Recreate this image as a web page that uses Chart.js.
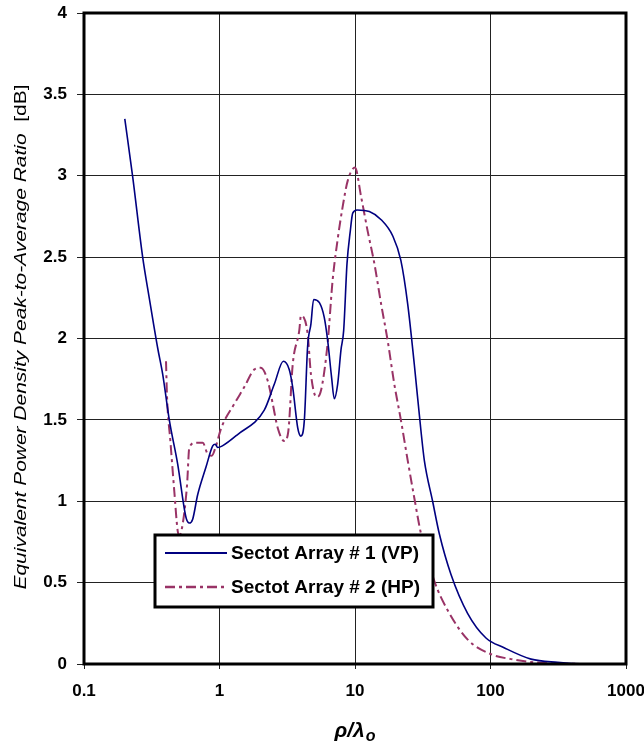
<!DOCTYPE html>
<html>
<head>
<meta charset="utf-8">
<script src="https://cdn.jsdelivr.net/npm/chart.js@4/dist/chart.umd.min.js"></script>
<style>
  html, body { margin: 0; padding: 0; background: #fff; }
  #wrap { width: 644px; height: 744px; position: relative; }
</style>
</head>
<body>
<div id="wrap"><canvas id="c" width="644" height="744"></canvas></div>
<script>
// ---- Data ----
const xTickValues = [0.1, 1, 10, 100, 1000];
const xTickLabels = ['0.1', '1', '10', '100', '1000'];

const seriesNames = ['Sectot Array # 1 (VP)', 'Sectot Array # 2 (HP)'];

const vpX = [0.2, 0.229, 0.271, 0.303, 0.35, 0.381, 0.426, 0.491, 0.566, 0.599, 0.634, 0.69, 0.795, 0.891, 0.93, 0.97, 1.05, 1.36, 2.14, 2.54, 2.96, 3.27, 3.47, 3.78, 3.99, 4.23, 4.47, 4.73, 4.95, 5.46, 5.93, 6.28, 6.72, 7.03, 7.45, 7.88, 8.25, 8.73, 9.23, 9.62, 10.35, 12.76, 15.6, 19.0, 21.8, 24.5, 27.4, 30.7, 32.5, 37.4, 41.9, 51.1, 67.9, 92.6, 126, 199, 313, 500, 1000];
const vpY = [3.35, 2.99, 2.50, 2.25, 1.94, 1.78, 1.50, 1.23, 0.90, 0.866, 0.89, 1.04, 1.21, 1.34, 1.35, 1.33, 1.34, 1.41, 1.56, 1.72, 1.86, 1.81, 1.70, 1.45, 1.40, 1.50, 1.95, 2.09, 2.24, 2.22, 2.13, 1.99, 1.76, 1.63, 1.72, 1.93, 2.05, 2.46, 2.66, 2.77, 2.79, 2.78, 2.73, 2.63, 2.48, 2.21, 1.84, 1.43, 1.25, 1.00, 0.80, 0.55, 0.31, 0.16, 0.10, 0.03, 0.01, 0.0, 0.0];

const hpX = [0.403, 0.41, 0.434, 0.464, 0.491, 0.505, 0.535, 0.576, 0.599, 0.671, 0.752, 0.818, 0.876, 0.942, 1.03, 1.29, 1.52, 1.81, 2.02, 2.27, 2.47, 2.69, 3.01, 3.22, 3.47, 3.88, 3.99, 4.18, 4.47, 4.73, 5.2, 5.61, 6.28, 6.84, 7.45, 8.11, 8.84, 10.0, 11.1, 12.4, 13.9, 15.6, 17.4, 19.5, 21.8, 24.5, 27.4, 30.7, 38.5, 48.3, 67.9, 101, 142, 210, 466];
const hpY = [1.86, 1.64, 1.37, 1.06, 0.82, 0.79, 0.86, 1.10, 1.33, 1.36, 1.36, 1.29, 1.28, 1.34, 1.45, 1.60, 1.70, 1.81, 1.82, 1.74, 1.60, 1.45, 1.37, 1.43, 1.84, 2.05, 2.14, 2.13, 2.03, 1.78, 1.64, 1.68, 1.97, 2.36, 2.61, 2.81, 2.97, 3.05, 2.87, 2.66, 2.46, 2.21, 1.99, 1.72, 1.50, 1.25, 1.02, 0.80, 0.51, 0.33, 0.15, 0.06, 0.03, 0.01, 0.0];

const yTitleItalic = 'Equivalent Power Density Peak-to-Average Ratio';
const yTitleUnit = '  [dB]';
const xTitleMain = 'ρ/λ';
const xTitleSub = 'o';

// ---- Build ----
const FONT = '"Liberation Sans", Arial, Helvetica, sans-serif';
const toPts = (xs, ys) => xs.map((x, i) => ({ x: x, y: ys[i] }));

const frameAndTitles = {
  id: 'frameAndTitles',
  afterDatasetsDraw(chart) {
    const { ctx, chartArea: a } = chart;
    ctx.save();
    // frame
    ctx.strokeStyle = '#000';
    ctx.lineWidth = 3;
    ctx.strokeRect(a.left, a.top, a.right - a.left, a.bottom - a.top);

    // legend box
    const lx = 155, ly = 535, lw = 278, lh = 72;
    ctx.fillStyle = '#fff';
    ctx.fillRect(lx, ly, lw, lh);
    ctx.lineWidth = 3;
    ctx.strokeStyle = '#000';
    ctx.strokeRect(lx, ly, lw, lh);
    const ds = chart.data.datasets;
    const rows = [553, 587];
    ds.forEach((d, i) => {
      ctx.beginPath();
      ctx.strokeStyle = d.borderColor;
      ctx.lineWidth = i === 0 ? 2 : 2.5;
      ctx.setLineDash(d.borderDash || []);
      ctx.moveTo(165, rows[i]);
      ctx.lineTo(227, rows[i]);
      ctx.stroke();
      ctx.setLineDash([]);
      ctx.fillStyle = '#000';
      ctx.font = 'bold 19px ' + FONT;
      ctx.textBaseline = 'middle';
      ctx.textAlign = 'left';
      ctx.fillText(d.label, 231, rows[i] + 1);
    });

    // y title (rotated)
    ctx.save();
    ctx.translate(22, 337);
    ctx.rotate(-Math.PI / 2);
    ctx.font = 'italic 16px ' + FONT;
    const w1 = ctx.measureText(yTitleItalic).width;
    ctx.font = '16px ' + FONT;
    const w2 = ctx.measureText(yTitleUnit).width;
    const total = w1 + w2;
    const sx = 505 / total;
    ctx.scale(sx, 1);
    ctx.fillStyle = '#000';
    ctx.textBaseline = 'middle';
    ctx.textAlign = 'left';
    ctx.font = 'italic 16px ' + FONT;
    ctx.fillText(yTitleItalic, -total / 2, 0);
    ctx.font = '16px ' + FONT;
    ctx.fillText(yTitleUnit, -total / 2 + w1, 0);
    ctx.restore();

    // x title
    ctx.fillStyle = '#000';
    ctx.textBaseline = 'alphabetic';
    ctx.textAlign = 'left';
    ctx.font = 'italic bold 21px ' + FONT;
    const m = ctx.measureText(xTitleMain).width;
    ctx.font = 'italic bold 16px ' + FONT;
    const s = ctx.measureText(xTitleSub).width;
    const x0 = 355 - (m + s + 1) / 2;
    ctx.font = 'italic bold 21px ' + FONT;
    ctx.fillText(xTitleMain, x0, 737);
    ctx.font = 'italic bold 16px ' + FONT;
    ctx.fillText(xTitleSub, x0 + m + 1, 741);
    ctx.restore();
  }
};

new Chart(document.getElementById('c'), {
  type: 'line',
  data: {
    datasets: [
      {
        label: seriesNames[0],
        data: toPts(vpX, vpY),
        borderColor: '#000080',
        borderWidth: 1.6,
        pointRadius: 0,
        fill: false,
        cubicInterpolationMode: 'monotone'
      },
      {
        label: seriesNames[1],
        data: toPts(hpX, hpY),
        borderColor: '#993366',
        borderWidth: 2,
        borderDash: [10, 4, 3, 4],
        pointRadius: 0,
        fill: false,
        cubicInterpolationMode: 'monotone'
      }
    ]
  },
  options: {
    responsive: false,
    animation: false,
    devicePixelRatio: 1,
    layout: { padding: { top: 13, right: 18, left: 0, bottom: 0 } },
    plugins: {
      legend: { display: false },
      tooltip: { enabled: false },
      title: { display: false }
    },
    scales: {
      x: {
        type: 'logarithmic',
        min: 0.1,
        max: 1000,
        afterBuildTicks(scale) {
          scale.ticks = xTickValues.map(v => ({ value: v }));
        },
        afterFit(scale) {
          scale.height = 80;
          scale.paddingLeft = 0;
          scale.paddingRight = 0;
        },
        border: { display: false },
        grid: { color: '#222', lineWidth: 1, tickLength: 5, drawTicks: true },
        ticks: {
          autoSkip: false,
          maxRotation: 0,
          padding: 12,
          color: '#000',
          font: { family: FONT, size: 17, weight: 'bold' },
          callback(v) {
            const i = xTickValues.indexOf(v);
            return i >= 0 ? xTickLabels[i] : '';
          }
        }
      },
      y: {
        min: 0,
        max: 4,
        afterFit(scale) {
          scale.width = 84;
          scale.paddingTop = 0;
          scale.paddingBottom = 0;
        },
        border: { display: false },
        grid: { color: '#222', lineWidth: 1, tickLength: 7, drawTicks: true },
        ticks: {
          stepSize: 0.5,
          padding: 10,
          color: '#000',
          font: { family: FONT, size: 17, weight: 'bold' },
          callback(v) { return String(Math.round(v * 10) / 10); }
        }
      }
    }
  },
  plugins: [frameAndTitles]
});
</script>
</body>
</html>
